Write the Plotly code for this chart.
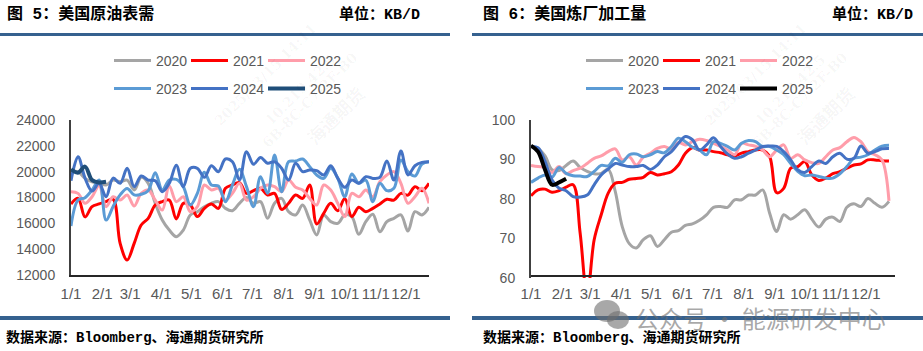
import pandas as pd
import plotly.graph_objects as go

WEEKS = pd.date_range("2021-01-01", periods=52, freq="7D").strftime("%Y-%m-%d").tolist()
TICK_DATES = ["2021-%02d-01" % m for m in range(1, 13)]
TICK_LABELS = ["%d/1" % m for m in range(1, 13)]
YEARS = ["2020", "2021", "2022", "2023", "2024", "2025"]

demand_2020 = [20000,20000,19480,19220,19100,18970,19350,19220,19350,18580,19560,19100,17550,16260,15480,14970,15480,16650,16900,17290,17550,17680,17160,16980,17550,18000,17550,17680,16390,17550,17930,16900,16650,17420,16260,15100,16650,16130,16000,16650,16520,15150,16130,16700,15350,16130,16390,16650,15400,16900,16650,17240]
demand_2021 = [17500,17930,16500,17290,17500,17680,17860,14450,13160,14450,15870,16390,17420,17680,17800,16340,17550,17420,16520,17160,17500,17160,18710,18970,19150,18320,18530,18710,18190,18320,17080,17550,18190,17930,18970,15950,16770,17550,16980,17930,16520,17240,16900,17160,17500,17860,17800,18320,18190,18840,18530,19100]
demand_2022 = [18450,18320,17550,18060,18900,17290,18060,17800,18190,17340,18320,18580,17800,17030,18900,17680,18060,16900,17290,18970,18580,18710,17800,18320,19100,17800,18060,18710,18970,18840,18450,19350,18790,18580,17930,17420,18970,18580,17550,16520,18320,18060,18580,18060,19220,19740,20000,19100,17550,18060,18710,17550]
demand_2023 = [15800,17800,17990,18580,19350,16250,17300,18200,18700,18200,18250,18530,19920,18580,19350,19400,18840,17420,18320,19950,18970,18890,17680,18970,20180,18840,17290,19610,18320,21290,18450,20770,20820,20980,20390,19740,19480,20260,19480,18060,19820,19100,19350,17680,19100,18530,18710,20900,20000,19660,20590,20770]
demand_2024 = [19300,21160,19500,18500,19100,18060,19500,19100,20260,18840,19660,19350,19300,18450,19100,20500,18840,20260,20260,19560,20460,20000,20980,20770,19350,21550,20570,21100,20650,20770,20260,19350,20650,20000,20130,20080,19740,20460,19500,18790,19350,19100,19610,19480,19560,20830,19350,21600,19740,20460,20720,20770]
demand_2025 = [20180,19920,20390,19350,19170,19220]

refinery_2020 = [93.3,92.8,90.9,87.4,87.2,88.5,89.6,88,87,86.4,86.5,87.5,81.9,73,68.7,67.6,69.7,70.7,68,69.7,71.6,72,73.3,73.7,74.6,76,77.9,78.1,77.9,79.8,79.8,81,81,82.3,76.4,71.8,76,74.9,76,77.3,74.9,72.9,74.9,75.4,74.3,77.9,78.8,78.1,80.1,78.9,77.9,79.4]
refinery_2021 = [80.8,82.3,82.5,81.7,82.1,83,83.6,71.4,55.4,69.7,76,81.5,84,84.2,85,85.2,85.5,86.7,86.1,86.4,86.9,88.6,91.6,93,92.4,92.4,92,91.7,91.2,90.9,91.6,92,92.4,92.4,90.7,81.6,82.7,87.8,88.2,89.5,86.1,84.7,85.3,86.4,86.9,87.8,88.6,88.9,89.9,89.9,89.7,89.6]
refinery_2022 = [88.5,88.2,88,86.7,88.2,86.4,87.2,87.8,89,90.3,90.9,92,92.7,89.9,90.7,88.6,90.6,91.6,92.8,93.3,92.6,94.3,93.7,94.5,95.1,94.8,94.1,93.3,92.4,91.2,94.1,93.7,93.3,92.4,90.7,92.4,93.7,90.3,91.2,89.9,89.2,89,90.7,92.4,93,94.5,95.6,94.5,92,91.2,89.9,79.5]
refinery_2023 = [84.2,85.3,86.1,85.5,88,86.5,85.9,85.8,85.7,87,88.5,88.4,90.3,89.3,91.2,91.4,90.7,91.2,92,91.7,93.3,95.4,94.5,93.1,92.4,91.2,94.5,94.1,93.3,92.4,94.1,94.8,94.5,93.3,93.3,92.4,91.2,89,87,85.9,86.1,85.7,85.3,85.3,86.4,88.2,90.3,90.6,91.2,92.4,93.4,93.6]
refinery_2024 = [93.3,93,89.5,84.8,82.7,82.1,80.6,80.5,81,83.6,86.1,87.6,89,88.6,88.2,88.2,88.5,87.5,88.6,90.7,92,94.1,95.8,95,92.4,93.7,95.5,93.3,91.4,90.3,90.7,91.6,92.4,93.3,93.4,93.3,92,89.9,87.4,86.7,88.2,89.6,89,90.7,91.6,90.1,90.3,93.4,91.6,92,92.7,92.8]
refinery_2025 = [93.5,92,87.4,83.6,84.2,85.1]

demand = [demand_2020, demand_2021, demand_2022, demand_2023, demand_2024, demand_2025]
refinery = [refinery_2020, refinery_2021, refinery_2022, refinery_2023, refinery_2024, refinery_2025]
demand_colors = ["#A5A5A5", "#FF0000", "#FF9DAA", "#5B9BD5", "#4472C4", "#1F4E79"]
refinery_colors = ["#A5A5A5", "#FF0000", "#FF9DAA", "#5B9BD5", "#4472C4", "#000000"]

W, H = 923, 351
SANS = "Liberation Sans"
HEAD = "Liberation Mono, Noto Sans CJK SC"
TICK = "#595959"
RULE = "#35618F"
fig = go.Figure()
legends = {}

def legend(px, py):
    return dict(orientation="h", x=px / W, y=1 - py / H, xanchor="left", yanchor="middle",
                itemwidth=37, itemclick=False, bgcolor="rgba(0,0,0,0)",
                font=dict(family=SANS, size=14, color=TICK))

def add_panel(series, colors, xa, ya, left):
    for i, (year, vals, col) in enumerate(zip(YEARS, series, colors)):
        n = len(legends) + 1
        key = "legend" if n == 1 else "legend%d" % n
        legends[key] = legend(left + 77 * (i % 3), 61 + 28 * (i // 3))
        fig.add_trace(go.Scatter(
            x=WEEKS[:len(vals)], y=vals, name=year, mode="lines", xaxis=xa, yaxis=ya,
            legend=key, showlegend=True,
            line=dict(color=col, width=4 if i == 5 else 3, shape="spline"),
            hoverinfo="skip"))

add_panel(demand, demand_colors, "x", "y", 109)
add_panel(refinery, refinery_colors, "x2", "y2", 581)

def xaxis(x0, x1, end, ticklen):
    return dict(domain=[x0 / W, x1 / W], type="date", range=["2021-01-01", end], automargin=False,
                tickmode="array", tickvals=TICK_DATES, ticktext=TICK_LABELS, tickangle=0,
                showgrid=False, zeroline=False, showline=True, linecolor="#262626", linewidth=1.5,
                ticks="outside", ticklen=ticklen, tickcolor="rgba(0,0,0,0)",
                tickfont=dict(family=SANS, size=15, color=TICK))

def yaxis(y_top, y_bot, rng, dtick, anchor):
    return dict(domain=[1 - y_bot / H, 1 - y_top / H], range=rng, dtick=dtick, anchor=anchor,
                automargin=False, tickformat="d",
                showgrid=False, zeroline=False, showline=True, linecolor="#404040", linewidth=2,
                ticks="outside", ticklen=11, tickcolor="rgba(0,0,0,0)",
                tickfont=dict(family=SANS, size=14, color=TICK))

def note(text, px, py, size, family=HEAD, color="#000000", anchor="left", angle=0, bold=True):
    return dict(text=text, x=px / W, y=1 - py / H, xref="paper", yref="paper", showarrow=False,
                xanchor=anchor, yanchor="middle", textangle=angle,
                font=dict(family=family, size=size, color=color, weight=700 if bold else 400))

annotations = [
    note("图 5\uff1a美国原油表需", 5, 14, 16),
    note("单位\uff1aKB/D", 337, 14, 15),
    note("图 6\uff1a美国炼厂加工量", 481, 14, 16),
    note("单位\uff1aKB/D", 830, 14, 15),
    note("数据来源\uff1aBloomberg、海通期货研究所", 4, 337, 14),
    note("数据来源\uff1aBloomberg、海通期货研究所", 481, 337, 14),
    note("公众号 · 能源研发中心", 633, 317, 24, family="Noto Sans CJK SC", color="rgba(110,110,110,0.6)", bold=False),
]
for cx in (300, 790):
    annotations += [
        note("2025/03/15 14:11", cx - 35, 75, 14, family="DejaVu Serif", color="rgba(0,0,0,0.04)", anchor="center", angle=-45),
        note("10.219.42.5", cx, 90, 14, family="DejaVu Serif", color="rgba(0,0,0,0.04)", anchor="center", angle=-45),
        note("6B-8C-C7-2F-B0", cx + 10, 100, 14, family="DejaVu Serif", color="rgba(0,0,0,0.04)", anchor="center", angle=-45),
        note("海通期货", cx + 35, 115, 18, family="Noto Sans CJK SC", color="rgba(0,0,0,0.04)", anchor="center", angle=-45),
    ]

def rule(x0, x1, y0, y1):
    return dict(type="rect", xref="paper", yref="paper", x0=x0 / W, x1=x1 / W, y0=1 - y1 / H, y1=1 - y0 / H,
                fillcolor=RULE, line_width=0, layer="below")

shapes = [rule(0, 450, 33, 36), rule(472, 923, 33, 36), rule(0, 450, 316, 320), rule(472, 923, 316, 320)]
ICON = "rgba(110,110,110,0.6)"
for x0, x1, y0, y1 in [(594, 620, 300, 322), (607, 629, 311, 329)]:
    shapes.append(dict(type="circle", xref="paper", yref="paper", x0=x0 / W, x1=x1 / W,
                       y0=1 - y1 / H, y1=1 - y0 / H, fillcolor=ICON, line_width=0))

fig.update_layout(
    width=W, height=H, margin=dict(l=0, r=0, t=0, b=0, autoexpand=False), autosize=False,
    paper_bgcolor="#FFFFFF", plot_bgcolor="rgba(0,0,0,0)", hovermode=False, showlegend=True,
    xaxis=xaxis(71, 429, "2021-12-24", 4), yaxis=yaxis(120, 275, [12000, 24000], 2000, "x"),
    xaxis2=xaxis(531, 895, "2021-12-30", 4), yaxis2=yaxis(120, 278, [60, 100], 10, "x2"),
    annotations=annotations, shapes=shapes, **legends)

fig.write_html("out.html", config={"displayModeBar": False},
               post_script="document.body.style.margin='0';")
